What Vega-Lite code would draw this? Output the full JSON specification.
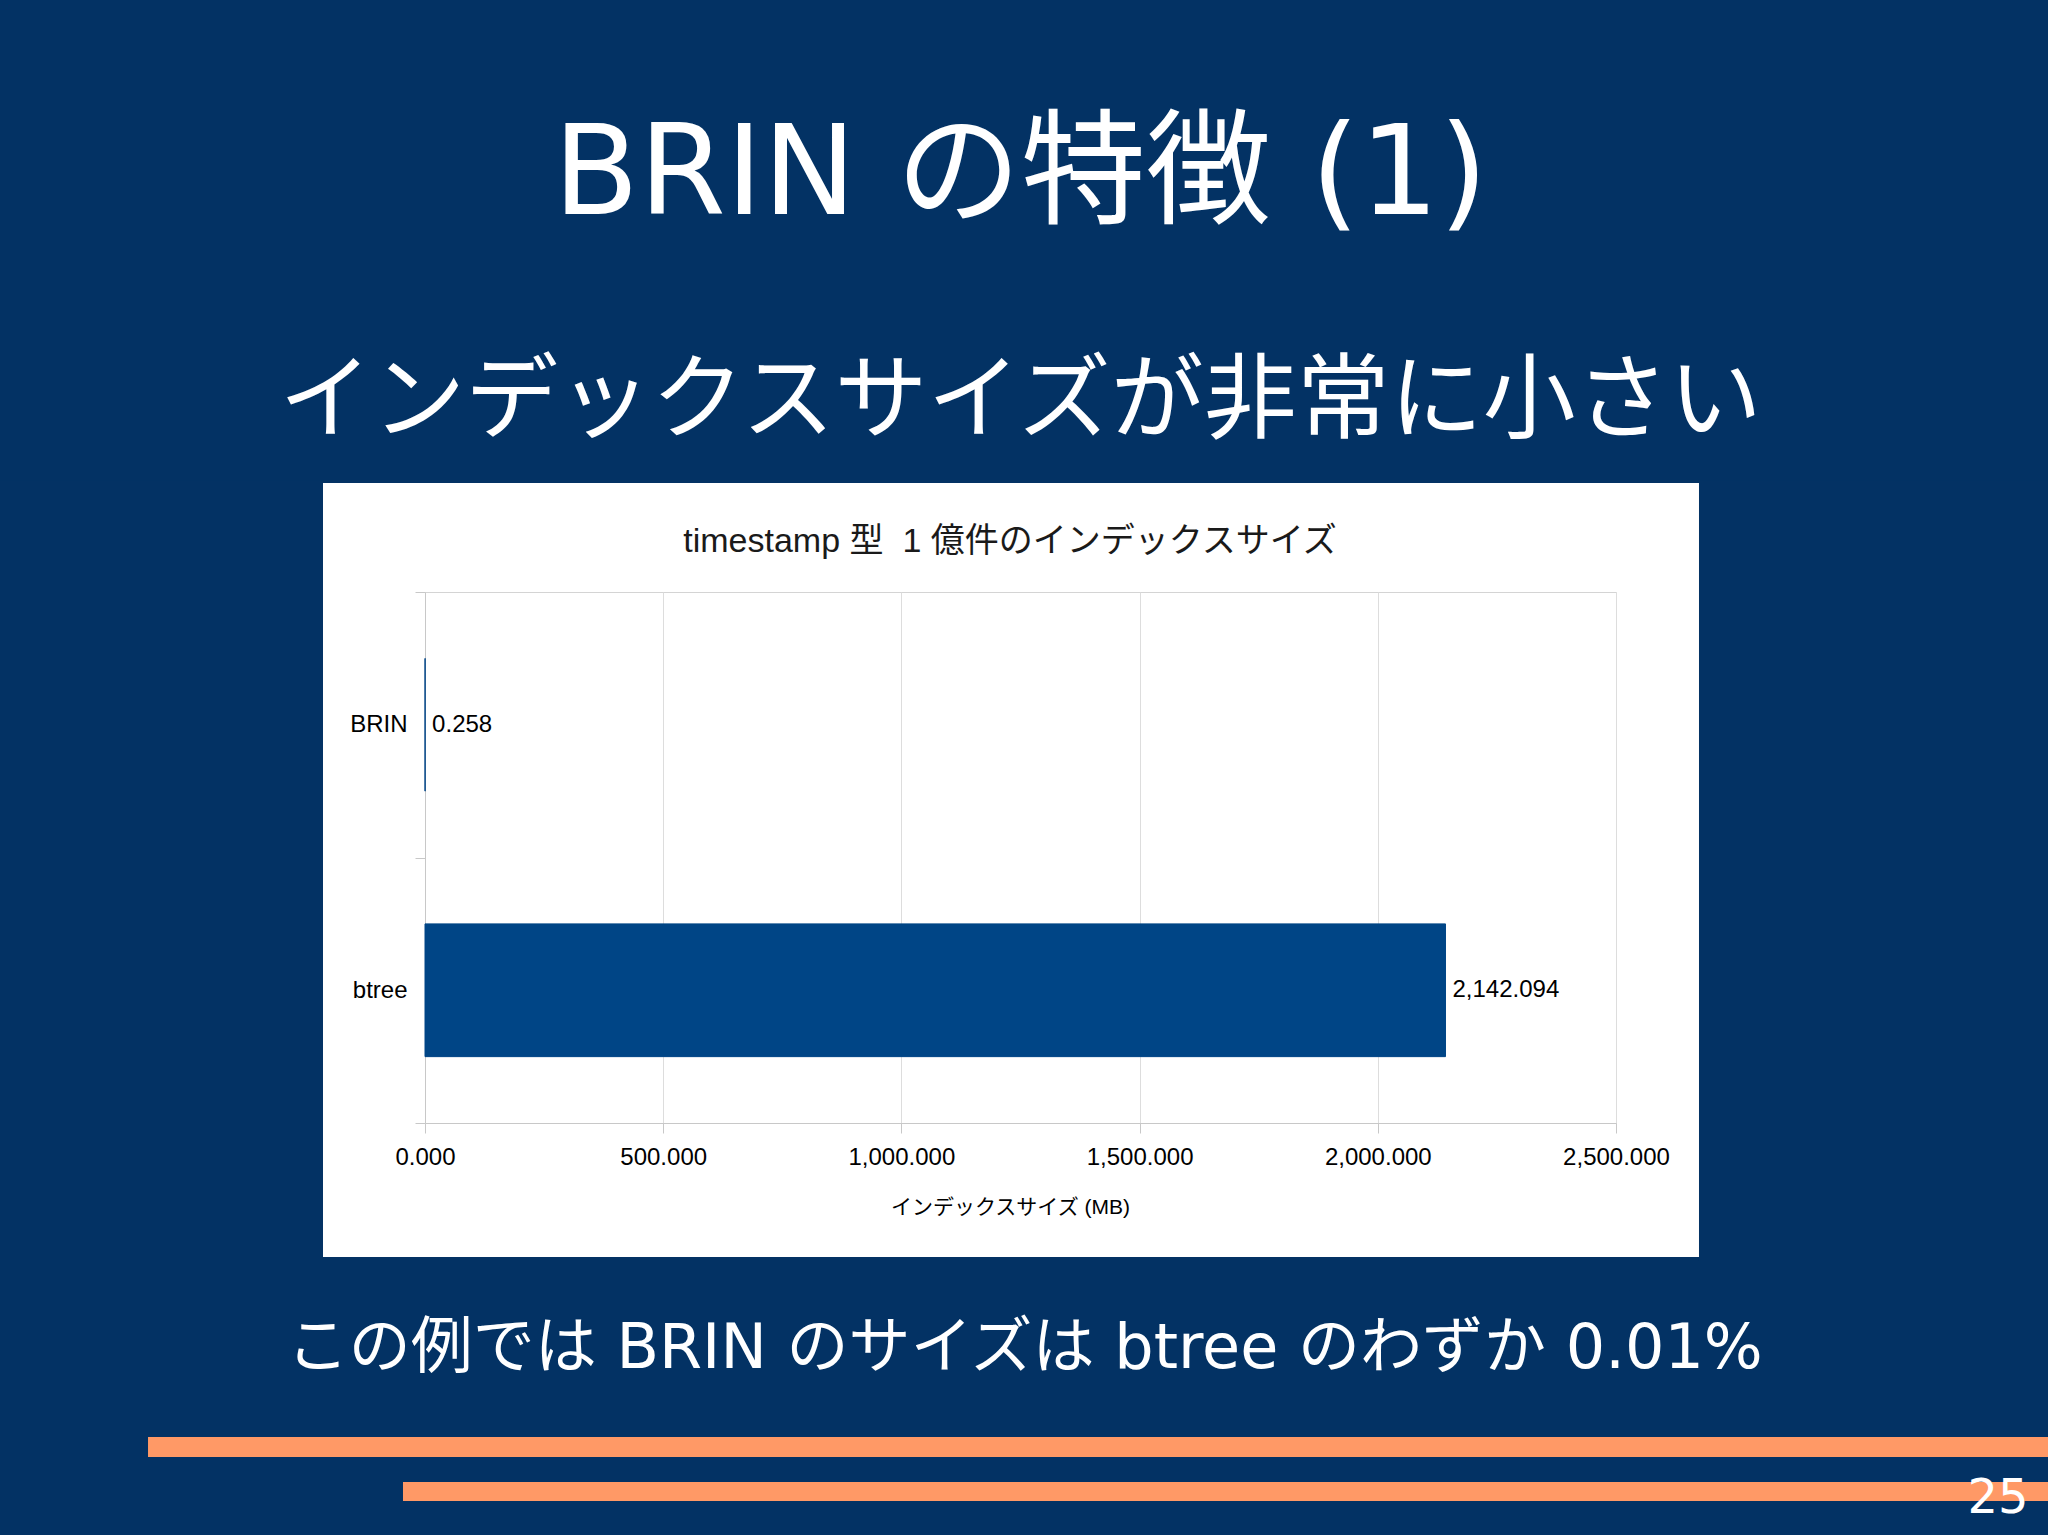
{
  "$schema": "https://vega.github.io/schema/vega-lite/v6.json",
  "width": 1191,
  "height": 531,
  "autosize": {"type": "none"},
  "padding": {"left": 425, "top": 592, "right": 432, "bottom": 412},
  "background": "#ffffff",
  "config": {"view": {"stroke": "#d4d4d4", "strokeWidth": 1}},
  "title": {
    "text": "BRIN の特徴 (1)",
    "subtitle": "インデックスサイズが非常に小さい",
    "font": "DejaVu Sans, Noto Sans CJK JP",
    "fontSize": 125,
    "fontWeight": "normal",
    "color": "#ffffff",
    "subtitleFont": "Noto Sans CJK JP",
    "subtitleFontSize": 93,
    "subtitleFontWeight": "normal",
    "subtitleColor": "#ffffff",
    "subtitlePadding": 118,
    "anchor": "middle",
    "frame": "group",
    "offset": -451
  },
  "layer": [
    {
      "data": {"values": [{"chartTitle": "timestamp 型\u00a0\u00a01 億件のインデックスサイズ", "note": "この例では BRIN のサイズは btree のわずか 0.01%", "page": "25"}]},
      "layer": [
        {
          "mark": {"type": "rect", "color": "#033264"},
          "encoding": {
            "x": {"datum": -2000, "type": "quantitative", "scale": {"domain": [0, 2500], "nice": false, "zero": true}, "axis": null},
            "x2": {"datum": 5000},
            "y": {"datum": 2.1149, "type": "quantitative", "scale": {"domain": [0, 1], "nice": false, "zero": false}, "axis": null},
            "y2": {"datum": 1.2053}
          }
        },
        {
          "mark": {"type": "rect", "color": "#033264"},
          "encoding": {
            "x": {"datum": -2000, "type": "quantitative", "scale": {"domain": [0, 2500], "nice": false, "zero": true}, "axis": null},
            "x2": {"datum": 5000},
            "y": {"datum": -0.2524, "type": "quantitative", "scale": {"domain": [0, 1], "nice": false, "zero": false}, "axis": null},
            "y2": {"datum": -3}
          }
        },
        {
          "mark": {"type": "rect", "color": "#033264"},
          "encoding": {
            "x": {"datum": -2000, "type": "quantitative", "scale": {"domain": [0, 2500], "nice": false, "zero": true}, "axis": null},
            "x2": {"datum": -214.1},
            "y": {"datum": 1.21, "type": "quantitative", "scale": {"domain": [0, 1], "nice": false, "zero": false}, "axis": null},
            "y2": {"datum": -0.26}
          }
        },
        {
          "mark": {"type": "rect", "color": "#033264"},
          "encoding": {
            "x": {"datum": 2674.2, "type": "quantitative", "scale": {"domain": [0, 2500], "nice": false, "zero": true}, "axis": null},
            "x2": {"datum": 5000},
            "y": {"datum": 1.21, "type": "quantitative", "scale": {"domain": [0, 1], "nice": false, "zero": false}, "axis": null},
            "y2": {"datum": -0.26}
          }
        },
        {
          "mark": {"type": "rect", "color": "#ff9966"},
          "encoding": {
            "x": {"datum": -581.4, "type": "quantitative", "scale": {"domain": [0, 2500], "nice": false, "zero": true}, "axis": null},
            "x2": {"datum": 3600},
            "y": {"datum": -0.5913, "type": "quantitative", "scale": {"domain": [0, 1], "nice": false, "zero": false}, "axis": null},
            "y2": {"datum": -0.629}
          }
        },
        {
          "mark": {"type": "rect", "color": "#ff9966"},
          "encoding": {
            "x": {"datum": -46.2, "type": "quantitative", "scale": {"domain": [0, 2500], "nice": false, "zero": true}, "axis": null},
            "x2": {"datum": 3600},
            "y": {"datum": -0.6761, "type": "quantitative", "scale": {"domain": [0, 1], "nice": false, "zero": false}, "axis": null},
            "y2": {"datum": -0.7119}
          }
        },
        {
          "mark": {"type": "text", "font": "Liberation Sans, Noto Sans CJK JP", "fontSize": 34, "color": "#1a1a1a", "align": "center", "baseline": "middle"},
          "encoding": {
            "x": {"datum": 1228, "type": "quantitative", "scale": {"domain": [0, 2500], "nice": false, "zero": true}, "axis": null},
            "y": {"datum": 1.0949, "type": "quantitative", "scale": {"domain": [0, 1], "nice": false, "zero": false}, "axis": null},
            "text": {"field": "chartTitle"}
          }
        },
        {
          "mark": {"type": "text", "font": "DejaVu Sans, Noto Sans CJK JP", "fontSize": 62, "color": "#ffffff", "align": "center", "baseline": "middle"},
          "encoding": {
            "x": {"datum": 1259, "type": "quantitative", "scale": {"domain": [0, 2500], "nice": false, "zero": true}, "axis": null},
            "y": {"datum": -0.4256, "type": "quantitative", "scale": {"domain": [0, 1], "nice": false, "zero": false}, "axis": null},
            "text": {"field": "note"}
          }
        },
        {
          "mark": {"type": "text", "font": "DejaVu Sans", "fontSize": 48, "color": "#ffffff", "align": "center", "baseline": "middle"},
          "encoding": {
            "x": {"datum": 3302, "type": "quantitative", "scale": {"domain": [0, 2500], "nice": false, "zero": true}, "axis": null},
            "y": {"datum": -0.7072, "type": "quantitative", "scale": {"domain": [0, 1], "nice": false, "zero": false}, "axis": null},
            "text": {"field": "page"}
          }
        }
      ]
    },
    {
      "data": {"values": [
        {"index": "BRIN", "size": 0.258},
        {"index": "btree", "size": 2142.094}
      ]},
      "encoding": {
        "x": {
          "field": "size", "type": "quantitative",
          "scale": {"domain": [0, 2500], "nice": false, "zero": true},
          "axis": {
            "orient": "bottom",
            "values": [0, 500, 1000, 1500, 2000, 2500],
            "format": ",.3f",
            "grid": true, "gridColor": "#dddddd",
            "domainColor": "#c8c8c8", "tickColor": "#c8c8c8", "tickSize": 10,
            "labelFont": "Liberation Sans", "labelFontSize": 24, "labelColor": "#000000", "labelPadding": 12,
            "labelFlush": false, "labelOverlap": false,
            "title": "インデックスサイズ (MB)",
            "titleFont": "Liberation Sans, Noto Sans CJK JP", "titleFontSize": 21, "titleFontWeight": "normal",
            "titleColor": "#000000", "titlePadding": 27, "titleX": 585
          }
        },
        "y": {
          "field": "index", "type": "nominal", "sort": null,
          "scale": {"type": "band", "paddingInner": 0, "paddingOuter": 0},
          "axis": {
            "title": null, "grid": false,
            "domainColor": "#c8c8c8", "tickColor": "#c8c8c8", "tickSize": 10, "tickBand": "extent",
            "labelFont": "Liberation Sans", "labelFontSize": 24, "labelColor": "#000000", "labelPadding": 8
          }
        }
      },
      "layer": [
        {"mark": {"type": "bar", "color": "#004586", "stroke": "#004586", "strokeWidth": 1, "height": {"band": 0.5}}},
        {
          "mark": {"type": "text", "align": "left", "baseline": "middle", "dx": 7, "font": "Liberation Sans", "fontSize": 24, "color": "#000000"},
          "encoding": {"text": {"field": "size", "type": "quantitative", "format": ",.3f"}}
        }
      ]
    }
  ],
  "resolve": {"scale": {"y": "independent"}, "axis": {"x": "independent", "y": "independent"}}
}
